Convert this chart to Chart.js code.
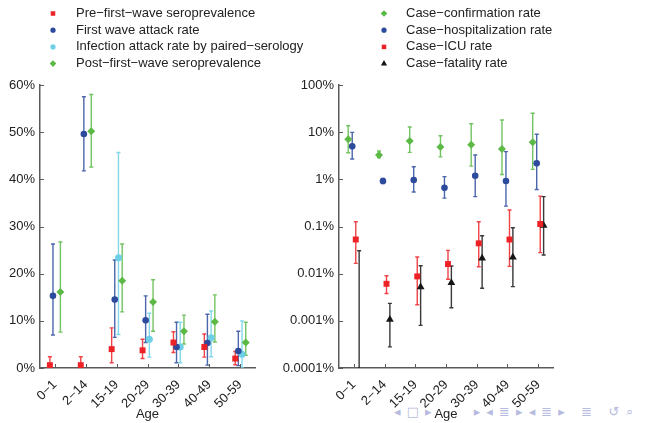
<!DOCTYPE html>
<html>
<head>
<meta charset="utf-8">
<script src="https://cdn.jsdelivr.net/npm/chart.js@4.4.1/dist/chart.umd.min.js"></script>
<style>
  html, body { margin: 0; padding: 0; background: #fff; }
  body { width: 662px; height: 423px; position: relative; overflow: hidden; }
  canvas { position: absolute; top: 0; }
  #c1 { left: 0; }
  #c2 { left: 270px; }
  #nav { position: absolute; left: 394px; top: 404px; font: 13px 'DejaVu Sans', sans-serif; color: #b7bbdd; letter-spacing: 1px; white-space: nowrap; }
</style>
</head>
<body>
<div id="nav">◂ □ ▸ &nbsp;&nbsp;&nbsp;&nbsp;&nbsp;&nbsp; ▸ ◂ ≣ ▸ ◂ ≣ ▸ &nbsp; ≣ &nbsp; ↺ ⌕</div>
<canvas id="c1" width="331" height="423"></canvas>
<canvas id="c2" width="392" height="423"></canvas>
<script>
// ---------- data ----------
const ageGroups = ['0−1', '2−14', '15-19', '20-29', '30-39', '40-49', '50-59'];

// Left panel (percent)
const preWave     = [0.6, 0.6, 4.0, 3.75, 5.4, 4.45, 2.0];
const preWaveLo   = [0, 0, 1.1, 2.0, 3.3, 2.3, 0.7];
const preWaveHi   = [2.4, 2.4, 8.5, 6.1, 7.7, 7.2, 3.5];
const firstWave   = [15.3, 49.6, 14.5, 10.1, 4.45, 5.3, 3.6];
const firstWaveLo = [7.0, 41.8, 6.5, 5.4, 1.1, 0.6, 0.5];
const firstWaveHi = [26.3, 57.5, 22.9, 15.3, 9.7, 11.4, 7.8];
const paired      = [null, null, 23.4, 6.1, 4.45, 6.4, 2.9];
const pairedLo    = [null, null, 7.1, 2.3, 1.1, 2.4, 0];
const pairedHi    = [null, null, 45.7, 11.6, 9.7, 12.1, 10.0];
const postWave    = [16.1, 50.2, 18.5, 14.0, 7.8, 9.8, 5.4];
const postWaveLo  = [7.6, 42.6, 11.9, 7.8, 5.1, 5.5, 2.7];
const postWaveHi  = [26.7, 58.0, 26.3, 18.7, 11.2, 15.5, 9.7];
const leftTickValues = [0, 10, 20, 30, 40, 50, 60];

// Right panel (percent, log scale)
const confirmRate   = [7.05, 3.3, 6.5, 4.84, 5.4, 4.4, 6.1];
const confirmLo     = [3.66, 2.87, 3.73, 3.0, 1.91, 1.27, 1.63];
const confirmHi     = [13.7, 3.98, 12.9, 8.4, 15.1, 18.1, 25.1];
const hospRate      = [5.0, 0.92, 0.97, 0.66, 1.19, 0.92, 2.18];
const hospLo        = [2.7, 0.81, 0.54, 0.40, 0.43, 0.27, 0.61];
const hospHi        = [9.9, 1.05, 1.85, 1.14, 3.27, 3.86, 9.0];
const icuRate       = [0.053, 0.0061, 0.00875, 0.016, 0.044, 0.053, 0.113];
const icuLo         = [0.0165, 0.0038, 0.0022, 0.0076, 0.014, 0.0143, 0.028];
const icuHi         = [0.126, 0.0090, 0.0225, 0.0311, 0.126, 0.223, 0.44];
const fatalRate     = [null, 0.00107, 0.0052, 0.0064, 0.0211, 0.0222, 0.105];
const fatalLo       = [0.00001, 0.00028, 0.0008, 0.0019, 0.0049, 0.0053, 0.0248];
const fatalHi       = [0.0306, 0.00234, 0.0147, 0.0145, 0.0637, 0.094, 0.43];
const rightTickValues = [0.0001, 0.001, 0.01, 0.1, 1, 10, 100];
const rightTickLabels = ['0.0001%', '0.001%', '0.01%', '0.1%', '1%', '10%', '100%'];

// ---------- style ----------
const RED = '#ec2227', BLUE = '#2d4b9d', CYAN = '#6dd0e6', GREEN = '#5cb946', BLACK = '#161616';
const AXIS = '#5a5a5a';
Chart.defaults.font.family = "'Liberation Sans', Arial, Helvetica, sans-serif";
Chart.defaults.font.size = 13;
Chart.defaults.color = '#222';

function series(vals, off) {
  return ageGroups.map((_, i) => ({ x: i + off, y: vals[i] }));
}
function ds(label, vals, lo, hi, off, color, style, r, legR) {
  return {
    label, data: series(vals, off), errLo: lo, errHi: hi,
    backgroundColor: color, borderColor: color, pointStyle: style,
    pointRadius: r, pointHoverRadius: r, pointBorderWidth: 0, showLine: false,
    legendRadius: legR
  };
}

const errorBars = {
  id: 'errorBars',
  beforeDatasetsDraw(chart) {
    const { ctx, chartArea, scales: { x, y } } = chart;
    ctx.save();
    ctx.beginPath();
    ctx.rect(chartArea.left, chartArea.top - 20, chartArea.right - chartArea.left, chartArea.bottom - chartArea.top + 20);
    ctx.clip();
    chart.data.datasets.forEach(d => {
      d.data.forEach((p, i) => {
        const lo = d.errLo[i], hi = d.errHi[i];
        if (lo == null || hi == null) return;
        const px = x.getPixelForValue(p.x);
        const yl = y.getPixelForValue(lo), yh = y.getPixelForValue(hi);
        ctx.strokeStyle = d.borderColor;
        ctx.globalAlpha = 0.85;
        ctx.lineWidth = 1.4;
        ctx.beginPath();
        ctx.moveTo(px, yl); ctx.lineTo(px, yh);
        ctx.moveTo(px - 2, yh); ctx.lineTo(px + 2, yh);
        ctx.moveTo(px - 2, yl); ctx.lineTo(px + 2, yl);
        ctx.stroke();
      });
    });
    ctx.restore();
  }
};

const inwardTicks = {
  id: 'inwardTicks',
  afterDraw(chart) {
    const { ctx, chartArea, scales: { x, y } } = chart;
    ctx.save();
    ctx.strokeStyle = AXIS;
    ctx.lineWidth = 1;
    ctx.beginPath();
    x.ticks.forEach(t => {
      const px = Math.round(x.getPixelForValue(t.value)) + 0.5;
      ctx.moveTo(px, chartArea.bottom); ctx.lineTo(px, chartArea.bottom - 4);
    });
    y.ticks.forEach(t => {
      const py = Math.round(y.getPixelForValue(t.value)) + 0.5;
      ctx.moveTo(chartArea.left, py); ctx.lineTo(chartArea.left + 4, py);
    });
    ctx.stroke();
    ctx.restore();
  }
};

const sideLegend = {
  id: 'sideLegend',
  afterDraw(chart, args, opts) {
    const ctx = chart.ctx;
    ctx.save();
    chart.data.datasets.forEach((d, i) => {
      const yy = opts.y0 + i * opts.dy;
      ctx.fillStyle = d.backgroundColor;
      ctx.strokeStyle = d.backgroundColor;
      Chart.helpers.drawPoint(ctx, { pointStyle: d.pointStyle, radius: d.legendRadius, borderWidth: 0, rotation: 0 }, opts.mx, yy);
      ctx.fillStyle = '#222';
      ctx.font = "13px 'Liberation Sans', Arial, sans-serif";
      ctx.textBaseline = 'middle';
      ctx.textAlign = 'left';
      ctx.fillText(d.label, opts.tx, yy);
    });
    ctx.restore();
  }
};

function xScale() {
  return {
    type: 'linear', min: -0.48, max: 6.48,
    afterBuildTicks: s => { s.ticks = ageGroups.map((_, i) => ({ value: i })); },
    afterFit: s => { s.height = 55; },
    grid: { display: false, drawTicks: false },
    border: { display: true, color: AXIS, width: 1.5 },
    ticks: { autoSkip: false, minRotation: 45, maxRotation: 45, padding: 9, callback: v => ageGroups[v] },
    title: { display: true, text: 'Age', padding: { top: 0, bottom: 1 } }
  };
}

new Chart(document.getElementById('c1'), {
  type: 'scatter',
  data: {
    datasets: [
      ds('Pre−first−wave seroprevalence', preWave, preWaveLo, preWaveHi, -0.16, RED, 'rect', 4.2, 3.2),
      ds('First wave attack rate', firstWave, firstWaveLo, firstWaveHi, -0.06, BLUE, 'circle', 3.3, 2.6),
      ds('Infection attack rate by paired−serology', paired, pairedLo, pairedHi, 0.06, CYAN, 'circle', 3.5, 2.6),
      ds('Post−first−wave seroprevalence', postWave, postWaveLo, postWaveHi, 0.18, GREEN, 'rectRot', 4.0, 3.3)
    ]
  },
  options: {
    responsive: false, animation: false, devicePixelRatio: 1,
    layout: { padding: { top: 85, right: 76, left: 0, bottom: 0 } },
    plugins: { legend: { display: false }, tooltip: { enabled: false },
      sideLegend: { mx: 53, tx: 76, y0: 13.5, dy: 16.7 } },
    scales: {
      x: xScale(),
      y: {
        type: 'linear', min: 0, max: 60,
        afterBuildTicks: s => { s.ticks = leftTickValues.map(v => ({ value: v })); },
        afterFit: s => { s.width = 40; },
        grid: { display: false, drawTicks: false },
        border: { display: true, color: AXIS, width: 1.5 },
        ticks: { padding: 5, callback: v => v + '%' }
      }
    }
  },
  plugins: [errorBars, inwardTicks, sideLegend]
});

new Chart(document.getElementById('c2'), {
  type: 'scatter',
  data: {
    datasets: [
      ds('Case−confirmation rate', confirmRate, confirmLo, confirmHi, -0.18, GREEN, 'rectRot', 4.0, 3.3),
      ds('Case−hospitalization rate', hospRate, hospLo, hospHi, -0.05, BLUE, 'circle', 3.3, 2.6),
      ds('Case−ICU rate', icuRate, icuLo, icuHi, 0.065, RED, 'rect', 4.2, 3.2),
      ds('Case−fatality rate', fatalRate, fatalLo, fatalHi, 0.175, BLACK, 'triangle', 4.5, 3.6)
    ]
  },
  options: {
    responsive: false, animation: false, devicePixelRatio: 1,
    layout: { padding: { top: 85, right: 109, left: 0, bottom: 0 } },
    plugins: { legend: { display: false }, tooltip: { enabled: false },
      sideLegend: { mx: 114, tx: 136, y0: 13.5, dy: 16.7 } },
    scales: {
      x: xScale(),
      y: {
        type: 'logarithmic', min: 0.0001, max: 100,
        afterBuildTicks: s => { s.ticks = rightTickValues.map(v => ({ value: v })); },
        afterFit: s => { s.width = 69; },
        grid: { display: false, drawTicks: false },
        border: { display: true, color: AXIS, width: 1.5 },
        ticks: { padding: 5, callback: (v, i) => rightTickLabels[rightTickValues.indexOf(v)] }
      }
    }
  },
  plugins: [errorBars, inwardTicks, sideLegend]
});
</script>
</body>
</html>
